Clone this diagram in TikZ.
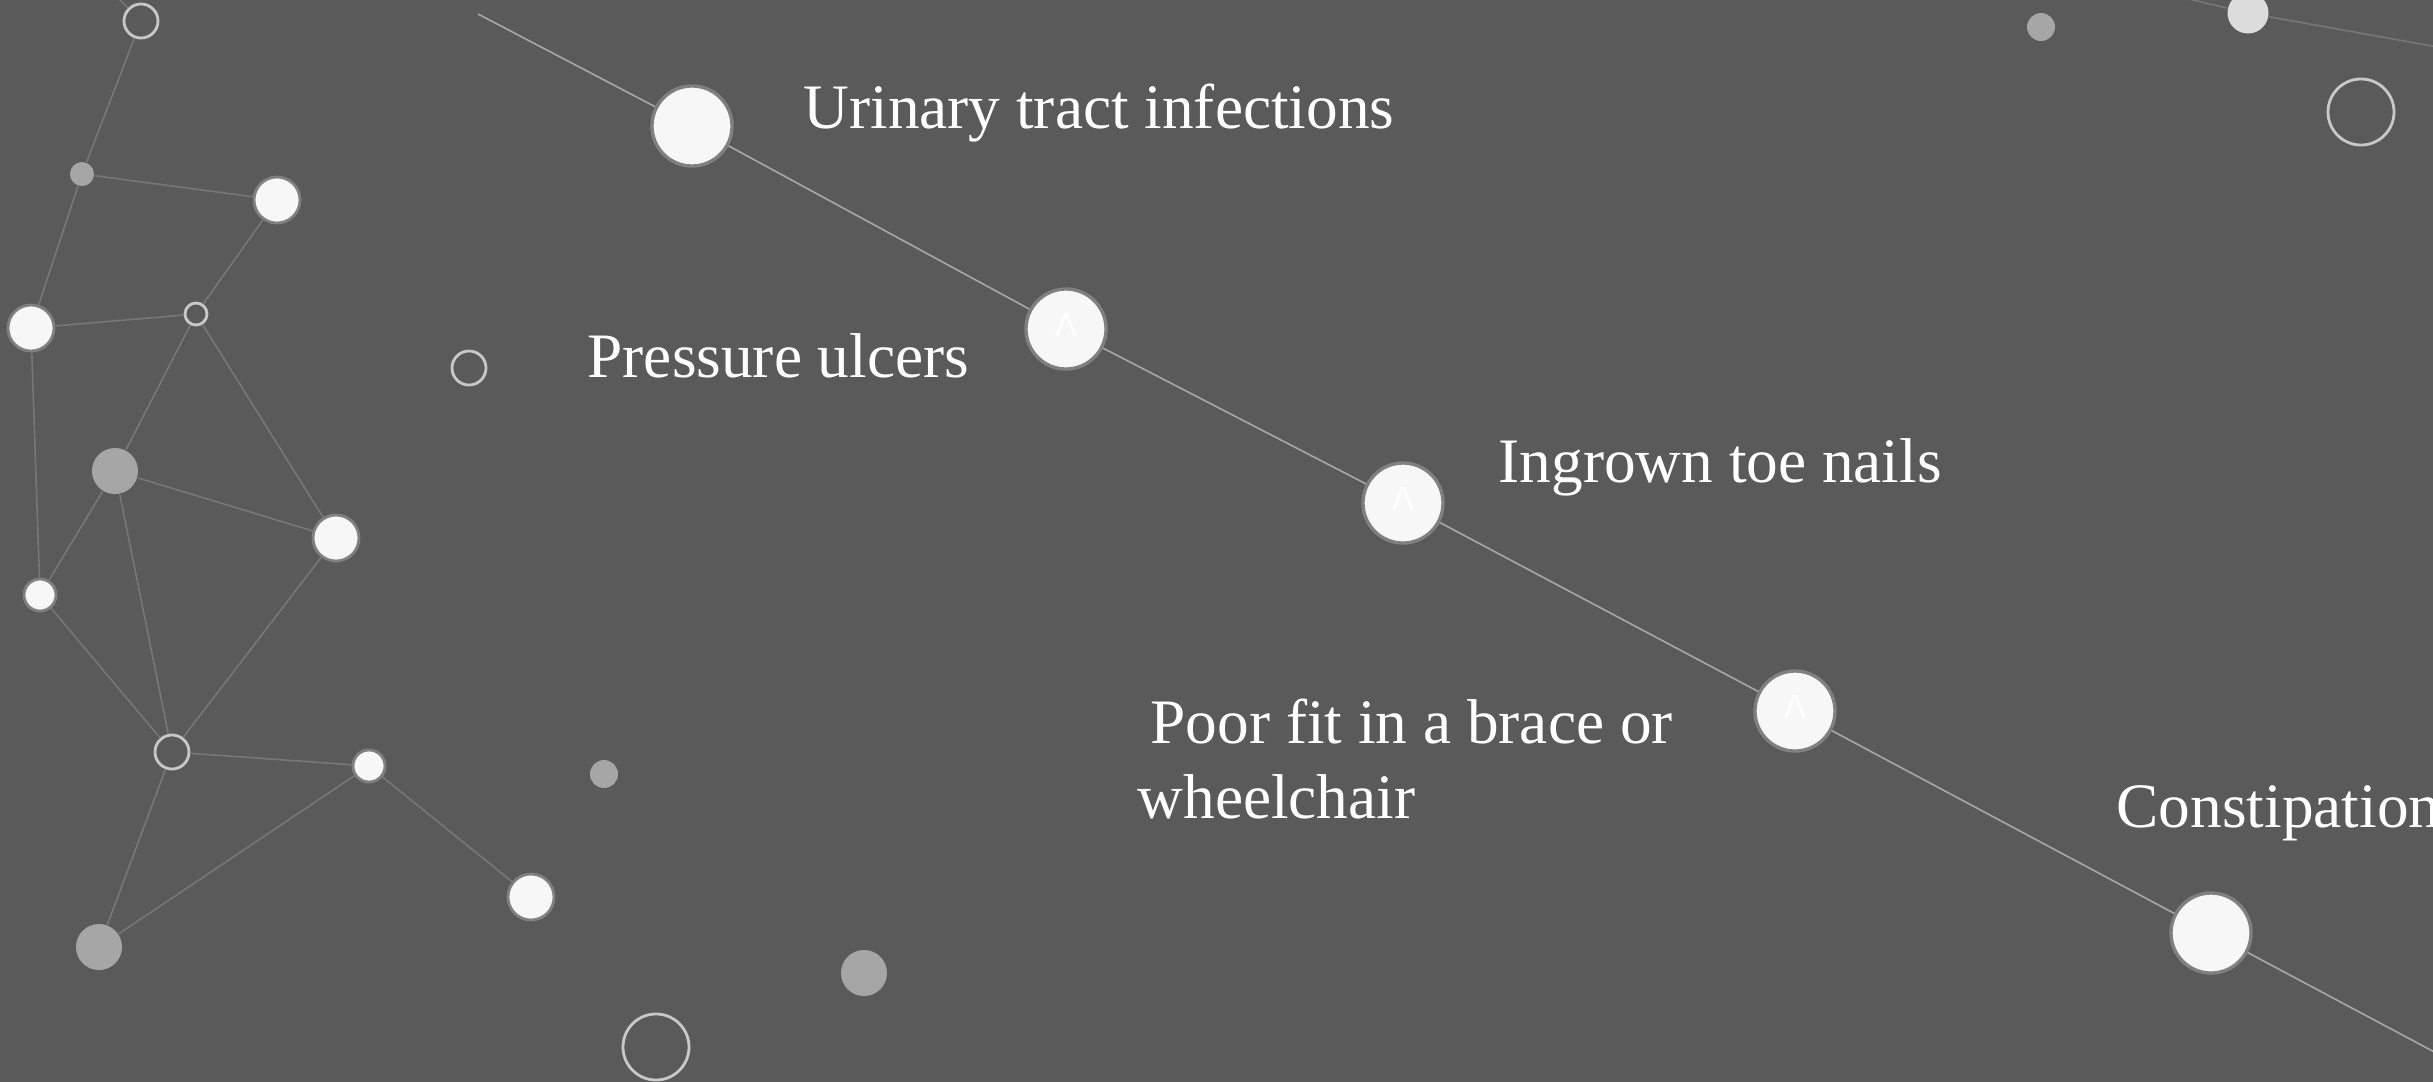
\documentclass[tikz,border=0pt]{standalone}
\usepackage{fontspec}
\setmainfont{Liberation Serif}
\newfontfamily\caretfont{Liberation Sans}
\usepackage{xcolor}
\usetikzlibrary{positioning}

\definecolor{bgGray}{HTML}{5A5A5A}
\definecolor{dotWhite}{HTML}{F7F7F7}
\definecolor{dotRim}{HTML}{808080}
\definecolor{dotGray}{HTML}{A6A6A6}
\definecolor{ringGray}{HTML}{C8C8C8}
\definecolor{linkGray}{HTML}{777777}
\definecolor{chainGray}{HTML}{A8A8A8}
\definecolor{paleDot}{HTML}{DCDCDC}

\begin{document}
\begin{tikzpicture}[x=0.01cm, y=-0.01cm,
    whiteDot/.style={circle, fill=dotWhite, draw=dotRim, line width=0.8pt, inner sep=0pt},
    grayDot/.style={circle, fill=dotGray, inner sep=0pt},
    ringDot/.style={circle, draw=ringGray, line width=0.8pt, inner sep=0pt},
    bigDot/.style={circle, fill=dotWhite, draw=dotRim, line width=0.95pt, inner sep=0pt, minimum size=0.8cm},
    caretMark/.style={inner sep=0pt, text=white, font=\caretfont\fontsize{9.5}{10}\selectfont},
    link/.style={draw=linkGray, line width=0.45pt},
    chain/.style={draw=chainGray, line width=0.45pt},
    item/.style={anchor=base west, inner sep=0pt, text=white, font=\fontsize{18}{21.3}\selectfont, align=left}
]

\useasboundingbox (0,0) rectangle (2433,1081);
\clip (0,0) rectangle (2433,1081);
\fill[bgGray] (-10,-10) rectangle (2443,1091);

% Main chain of complications
\coordinate (chainStart) at (478,14);
\coordinate (chainEnd) at (2440,1055);
\node[bigDot] (uti) at (692,126) {};
\node[bigDot] (ulcer) at (1066,329) {};
\node[bigDot] (toe) at (1403,503) {};
\node[bigDot] (brace) at (1795,711) {};
\node[bigDot] (bowel) at (2211,933) {};

\node[caretMark] (ulcerMark) at ([yshift=0.045cm]ulcer.center) {Λ};
\node[caretMark] (toeMark) at ([yshift=0.045cm]toe.center) {Λ};
\node[caretMark] (braceMark) at ([yshift=0.045cm]brace.center) {Λ};

\draw[chain] (chainStart) -- (uti) -- (ulcer) -- (toe) -- (brace) -- (bowel) -- (chainEnd);

\node[item] (utiText) at (803,128) {Urinary tract infections};
\node[item] (ulcerText) at (587,377) {Pressure ulcers};
\node[item] (toeText) at (1498,482) {Ingrown toe nails};
% base anchor sits on the last line here
\node[item] (braceText) at (1137,818) {\hspace{0.13cm}Poor fit in a brace or\\wheelchair};
\node[item] (bowelText) at (2116,827) {Constipation};

% Network on the left
\coordinate (netOut) at (112,-8);
\node[ringDot, minimum size=0.34cm] (n1) at (141,21) {};
\node[grayDot, minimum size=0.24cm] (n2) at (82,174) {};
\node[whiteDot, minimum size=0.46cm] (n3) at (277,200) {};
\node[whiteDot, minimum size=0.46cm] (n4) at (31,328) {};
\node[ringDot, minimum size=0.22cm] (n5) at (196,314) {};
\node[grayDot, minimum size=0.46cm] (n6) at (115,471) {};
\node[whiteDot, minimum size=0.46cm] (n7) at (336,538) {};
\node[whiteDot, minimum size=0.32cm] (n8) at (40,595) {};
\node[ringDot, minimum size=0.34cm] (n9) at (172,752) {};
\node[whiteDot, minimum size=0.32cm] (n10) at (369,766) {};
\node[grayDot, minimum size=0.46cm] (n11) at (99,947) {};
\node[whiteDot, minimum size=0.46cm] (n12) at (531,897) {};

\draw[link] (netOut) -- (n1) -- (n2) -- (n3);
\draw[link] (n2) -- (n4) -- (n5) -- (n3);
\draw[link] (n5) -- (n6) -- (n7) -- (n5);
\draw[link] (n4) -- (n8) -- (n6) -- (n9) -- (n8);
\draw[link] (n7) -- (n9) -- (n10) -- (n11) -- (n9);
\draw[link] (n10) -- (n12);

% Loose dots
\node[ringDot, minimum size=0.34cm] (d1) at (469,368) {};
\node[grayDot, minimum size=0.28cm] (d2) at (604,774) {};
\node[ringDot, minimum size=0.66cm] (d3) at (656,1047) {};
\node[grayDot, minimum size=0.46cm] (d4) at (864,973) {};

% Corner top right
\coordinate (cornerIn) at (2138,-13);
\coordinate (cornerOut) at (2460,51);
\node[grayDot, minimum size=0.28cm] (c1) at (2041,27) {};
\node[circle, fill=paleDot, inner sep=0pt, minimum size=0.41cm] (c2) at (2248,13) {};
\node[ringDot, minimum size=0.66cm] (c3) at (2361,112) {};
\draw[link] (cornerIn) -- (c2) -- (cornerOut);

\end{tikzpicture}
\end{document}
